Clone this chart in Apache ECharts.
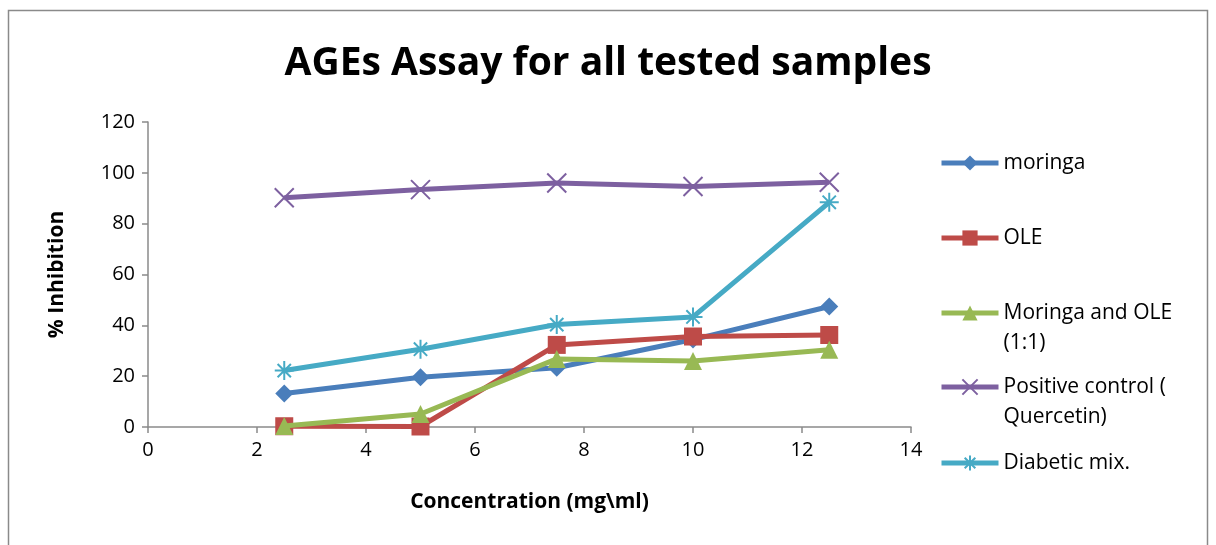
<!DOCTYPE html>
<html><head><meta charset="utf-8">
<script src="https://cdn.jsdelivr.net/npm/echarts@6/dist/echarts.min.js"></script>
<style>html,body{margin:0;padding:0;background:#fff}#c{width:1216px;height:545px}</style>
</head><body><div id="c"></div>
<script>
const concentrations = [2.5, 5, 7.5, 10, 12.5];
const moringa = [13.2, 19.6, 23.3, 34.4, 47.4];
const ole = [0.3, 0.2, 32.3, 35.6, 36.2];
const moringaOle = [0.4, 5.1, 26.8, 26.0, 30.4];
const positive = [90.2, 93.4, 96.0, 94.6, 96.3];
const diabetic = [22.2, 30.6, 40.3, 43.3, 88.4];
const seriesNames = ['moringa', 'OLE', 'Moringa and OLE\n(1:1)', 'Positive control (\nQuercetin)', 'Diabetic mix.'];
const xTicks = [0, 2, 4, 6, 8, 10, 12, 14];
const yTicks = [0, 20, 40, 60, 80, 100, 120];

const colors = ['#4a7ebb', '#be4b48', '#98b954', '#7d60a0', '#46aac5'];
const values = [moringa, ole, moringaOle, positive, diabetic];
const symbols = ['diamond', 'rect', 'triangle',
  'path://M0,0L10,10M10,0L0,10',
  'path://M5,0L5,10M0,5L10,5M1.5,1.5L8.5,8.5M8.5,1.5L1.5,8.5'];
const symSizes = [18, 18, 18, 19, 19];
const FONT = '"Open Sans", "Noto Sans", sans-serif';

const series = values.map((v, i) => {
  const stroke = i >= 3;
  return {
    name: seriesNames[i],
    type: 'line',
    data: concentrations.map((x, j) => [x, v[j]]),
    symbol: symbols[i],
    symbolSize: symSizes[i],
    showAllSymbol: true,
    lineStyle: { color: colors[i], width: 5 },
    itemStyle: stroke
      ? { color: 'rgba(0,0,0,0)', borderColor: colors[i], borderWidth: 2 }
      : { color: colors[i], borderWidth: 0 },
    emphasis: { disabled: true },
    z: 2 + i
  };
});

const legendTops = [143, 218, 263, 337, 443];
const legends = seriesNames.map((n, i) => ({
  data: [n],
  left: 934,
  top: legendTops[i],
  orient: 'vertical',
  itemWidth: 57,
  itemHeight: 19,
  selectedMode: false,
  lineStyle: { width: 5 },
  formatter: (name) => name.indexOf('\n') >= 0 ? '\n' + name : name,
  textStyle: { fontFamily: FONT, fontSize: 21, color: '#000', lineHeight: 30 }
}));

const chart = echarts.init(document.getElementById('c'));
chart.setOption({
  animation: false,
  backgroundColor: '#fff',
  title: {
    text: 'AGEs Assay for all tested samples',
    left: 'center', top: 39,
    textStyle: { fontFamily: FONT, fontSize: 39, fontWeight: 'bold', color: '#000' }
  },
  graphic: [{
    type: 'rect', shape: { x: 8.5, y: 10.5, width: 1199, height: 560 },
    style: { fill: 'none', stroke: '#8a8a8a', lineWidth: 1.5 }, silent: true, z: -1
  }],
  legend: legends,
  grid: { left: 148, right: 305, top: 122, bottom: 118 },
  xAxis: {
    type: 'value', min: xTicks[0], max: xTicks[xTicks.length - 1], interval: 2,
    name: 'Concentration (mg\\ml)', nameLocation: 'middle', nameGap: 65,
    nameTextStyle: { fontFamily: FONT, fontSize: 21, fontWeight: 'bold', color: '#000' },
    axisLine: { show: true, onZero: false, lineStyle: { color: '#8a8a8a', width: 1.5 } },
    axisTick: { show: true, length: 6, lineStyle: { color: '#8a8a8a', width: 1.5 } },
    axisLabel: { fontFamily: FONT, fontSize: 20, color: '#000', margin: 13 },
    splitLine: { show: false }
  },
  yAxis: {
    type: 'value', min: yTicks[0], max: yTicks[yTicks.length - 1], interval: 20,
    name: '% Inhibition', nameLocation: 'middle', nameGap: 80, nameRotate: 90,
    nameTextStyle: { fontFamily: FONT, fontSize: 21, fontWeight: 'bold', color: '#000' },
    axisLine: { show: true, lineStyle: { color: '#8a8a8a', width: 1.5 } },
    axisTick: { show: true, length: 6, lineStyle: { color: '#8a8a8a', width: 1.5 } },
    axisLabel: { fontFamily: FONT, fontSize: 20, color: '#000', margin: 13 },
    splitLine: { show: false }
  },
  series: series
});
</script></body></html>
